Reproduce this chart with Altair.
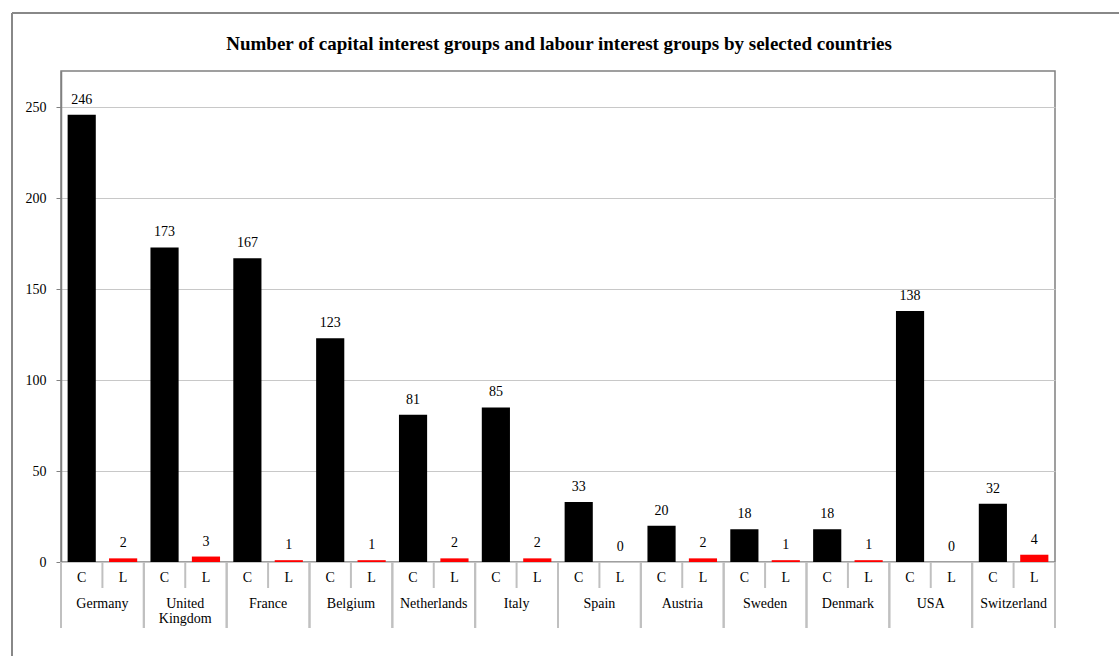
import altair as alt
import pandas as pd

countries = ["Germany", "United Kingdom", "France", "Belgium", "Netherlands", "Italy",
             "Spain", "Austria", "Sweden", "Denmark", "USA", "Switzerland"]
capital = [246, 173, 167, 123, 81, 85, 33, 20, 18, 18, 138, 32]
labour = [2, 3, 1, 1, 2, 2, 0, 2, 1, 1, 0, 4]
types = ["C", "L"]
y_ticks = [0, 50, 100, 150, 200, 250]
title_text = ["Number of capital interest groups and labour interest groups by selected countries"]

rows = []
for c, cv, lv in zip(countries, capital, labour):
    rows.append({"country": c, "type": "C", "value": cv})
    rows.append({"country": c, "type": "L", "value": lv})
df = pd.DataFrame(rows)
cdf = pd.DataFrame({"country": countries})
tdf = pd.DataFrame({"t": title_text})

W, H = 994, 491
FONT = "Liberation Serif"
FS = 14

xs = alt.X("country:N", sort=countries,
           scale=alt.Scale(paddingInner=0, paddingOuter=0), axis=None)
xo = alt.XOffset("type:N", sort=types,
                 scale=alt.Scale(paddingInner=0.32, paddingOuter=0.16))

bars = alt.Chart(df).mark_bar().encode(
    x=xs, xOffset=xo,
    y=alt.Y("value:Q", scale=alt.Scale(domain=[0, 270], nice=False),
            axis=alt.Axis(values=y_ticks, title=None, grid=True, gridColor="#c8c8c8",
                          gridWidth=1, tickSize=5, tickColor="#808080", domainColor="#808080",
                          domainWidth=1.5, labelFont=FONT, labelFontSize=FS,
                          labelColor="#000000", labelPadding=10)),
    color=alt.Color("type:N", sort=types,
                    scale=alt.Scale(domain=types, range=["#000000", "#ff0000"]), legend=None),
)

vals = alt.Chart(df).mark_text(font=FONT, fontSize=FS, dy=-15, color="#000000").encode(
    x=xs, xOffset=xo, y="value:Q", text="value:Q")

cl = alt.Chart(df).mark_text(font=FONT, fontSize=FS, color="#000000").encode(
    x=xs, xOffset=xo, y=alt.value(H + 16), text="type:N")

cdf["label"] = [c.replace(" ", "\n") for c in countries]
names = alt.Chart(cdf).mark_text(font=FONT, fontSize=FS, color="#000000",
                                 lineBreak="\n", baseline="top", lineHeight=15).encode(
    x=alt.X("country:N", sort=countries), y=alt.value(H + 35), text="label:N")

sep_start = alt.Chart(cdf).mark_rule(color="#c0c0c0", strokeWidth=2).encode(
    x=alt.X("country:N", sort=countries, bandPosition=0),
    y=alt.value(H), y2=alt.value(H + 66))
sep_end = alt.Chart(cdf).mark_rule(color="#c0c0c0", strokeWidth=2).encode(
    x=alt.X("country:N", sort=countries, bandPosition=1),
    y=alt.value(H), y2=alt.value(H + 66))
mid = alt.Chart(cdf).mark_rule(color="#c0c0c0", strokeWidth=2).encode(
    x=alt.X("country:N", sort=countries, bandPosition=0.5),
    y=alt.value(H), y2=alt.value(H + 26))

border_top = alt.Chart(cdf).mark_rule(color="#888888", strokeWidth=1.5).encode(
    x=alt.value(-49), x2=alt.value(1200), y=alt.value(-58))
border_left = alt.Chart(cdf).mark_rule(color="#888888", strokeWidth=1.5).encode(
    x=alt.value(-49), y=alt.value(-58), y2=alt.value(700))

title = alt.Chart(tdf).mark_text(font=FONT, fontSize=19, fontWeight="bold", color="#000000",
                                 align="center", baseline="middle").encode(
    x=alt.value(W / 2 + 1), y=alt.value(-27), text="t:N")

chart = alt.layer(bars, vals, cl, names, sep_start, sep_end, mid, border_top, border_left, title).properties(
    width=W, height=H,
    autosize=alt.AutoSizeParams(type="none"),
    padding={"left": 61, "top": 71, "right": 64, "bottom": 94},
).configure_view(stroke="#808080", strokeWidth=1.5)

chart.save("out.html", embed_options={"renderer": "svg", "actions": False})
